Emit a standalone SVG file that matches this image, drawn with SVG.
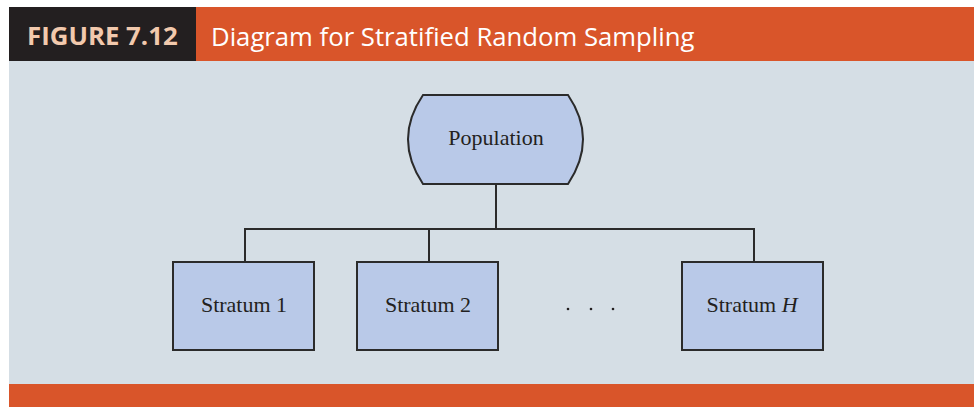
<svg xmlns="http://www.w3.org/2000/svg" width="974" height="407" viewBox="0 0 974 407">
<style>
.node{fill:#b9c9e8;stroke:#2b2b2b;stroke-width:2}
.lbl{font-family:"Liberation Serif",serif;font-size:22px;fill:#231f20;text-anchor:middle}
.conn{fill:none;stroke:#2b2b2b;stroke-width:2}
.dot{fill:#231f20}
</style>
<rect x="0" y="0" width="974" height="407" fill="#ffffff"/>
<rect x="9" y="61" width="965" height="323" fill="#d5dee5"/>
<rect x="9" y="384" width="965" height="23" fill="#d9552a"/>
<rect x="9" y="7" width="187" height="54" fill="#231f20"/>
<rect x="196" y="7" width="778" height="54" fill="#d9552a"/>
<text x="27" y="45" font-family="'Open Sans','Noto Sans',sans-serif" font-weight="bold" font-size="25.8" fill="#f2c9ad">FIGURE 7.12</text>
<text x="211" y="46" font-family="'Open Sans','Noto Sans',sans-serif" font-size="25.7" fill="#ffffff">Diagram for Stratified Random Sampling</text>
<g id="connectors">
<path class="conn" d="M496 184 V229 M245 262 V229 H754 V262 M429 229 V262"/>
</g>
<g id="population">
<path class="node" d="M423 95 H568 Q598 139 568 184 H423 Q393 139 423 95 Z"/>
<text class="lbl" x="496" y="145">Population</text>
</g>
<g id="stratum1">
<rect class="node" x="173" y="262" width="141" height="88"/>
<text class="lbl" x="244" y="312">Stratum 1</text>
</g>
<g id="stratum2">
<rect class="node" x="357" y="262" width="141" height="88"/>
<text class="lbl" x="428" y="312">Stratum 2</text>
</g>
<g id="dots">
<circle class="dot" cx="568" cy="309" r="1.3"/>
<circle class="dot" cx="591" cy="309" r="1.3"/>
<circle class="dot" cx="613" cy="309" r="1.3"/>
</g>
<g id="stratumH">
<rect class="node" x="682" y="262" width="141" height="88"/>
<text class="lbl" x="752" y="312">Stratum <tspan font-style="italic">H</tspan></text>
</g>
</svg>
